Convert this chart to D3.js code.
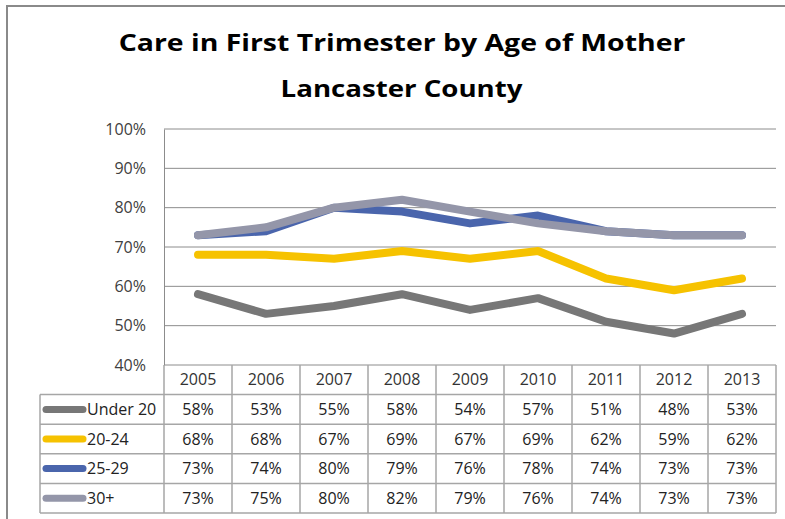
<!DOCTYPE html>
<html>
<head>
<meta charset="utf-8">
<script src="https://cdn.jsdelivr.net/npm/d3@7/dist/d3.min.js"></script>
<style>
  html, body { margin: 0; padding: 0; background: #fff; }
  svg { display: block; }
  text { font-family: "Open Sans", "Noto Sans", sans-serif; }
</style>
</head>
<body>
<svg id="chart" width="785" height="519"></svg>
<script>
// Years along the category axis
const years = ["2005", "2006", "2007", "2008", "2009", "2010", "2011", "2012", "2013"];

// Share of mothers receiving care in the first trimester, by age group
const under20 = [0.58, 0.53, 0.55, 0.58, 0.54, 0.57, 0.51, 0.48, 0.53];
const age20to24 = [0.68, 0.68, 0.67, 0.69, 0.67, 0.69, 0.62, 0.59, 0.62];
const age25to29 = [0.73, 0.74, 0.80, 0.79, 0.76, 0.78, 0.74, 0.73, 0.73];
const age30plus = [0.73, 0.75, 0.80, 0.82, 0.79, 0.76, 0.74, 0.73, 0.73];

const seriesNames = ["Under 20", "20-24", "25-29", "30+"];
const seriesColors = ["#777777", "#F6C200", "#4A65AC", "#9496A9"];
const yTicks = [0.4, 0.5, 0.6, 0.7, 0.8, 0.9, 1.0];

const series = [under20, age20to24, age25to29, age30plus].map((vals, i) => ({
  name: seriesNames[i], color: seriesColors[i], values: vals
}));

const svg = d3.select("#chart");

// Chart frame
svg.append("rect")
  .attr("x", 7).attr("y", 6).attr("width", 820).attr("height", 600)
  .attr("fill", "none").attr("stroke", "#8a8a8a").attr("stroke-width", 2);

// Title: each line is stretched horizontally to its set width
const titleLines = [
  { text: "Care in First Trimester by Age of Mother", cx: 402, y: 51, width: 567 },
  { text: "Lancaster County", cx: 401.5, y: 97, width: 242 }
];
const title = svg.append("g").attr("font-weight", "bold").attr("fill", "#000");
titleLines.forEach(t => {
  const node = title.append("text")
    .attr("text-anchor", "middle")
    .attr("font-size", 23)
    .text(t.text);
  const natural = node.node().getComputedTextLength();
  node.attr("transform", `translate(${t.cx},${t.y}) scale(${t.width / natural},1)`);
});

// Scales
const plotLeft = 164, plotRight = 776, plotTop = 129, plotBottom = 365;
const x = d3.scaleBand().domain(years).range([plotLeft, plotRight]);
const y = d3.scaleLinear().domain([0.4, 1.0]).range([plotBottom, plotTop]);

// Horizontal gridlines
svg.append("g")
  .selectAll("line")
  .data(yTicks)
  .join("line")
  .attr("x1", plotLeft).attr("x2", plotRight)
  .attr("y1", d => y(d)).attr("y2", d => y(d))
  .attr("stroke", "#8c8c8c").attr("stroke-width", 1);

// Value axis
const yAxis = svg.append("g")
  .attr("transform", `translate(${plotLeft},0)`)
  .call(d3.axisLeft(y).tickValues(yTicks).tickFormat(d3.format(".0%")).tickSize(0).tickPadding(18));
yAxis.select(".domain").attr("stroke", "#8c8c8c").attr("stroke-width", 1);
yAxis.selectAll("text")
  .attr("font-family", "\"Open Sans\", sans-serif")
  .attr("font-size", 16).attr("fill", "#404040");

// Data table beneath the plot
const rowH = 29.6;
const tableTop = plotBottom;
const legendLeft = 40;
const tableColor = "#a6a6a6";
const table = svg.append("g");

// Column dividers (also act as category tick marks)
const colEdges = years.map(d => x(d)).concat([plotRight]);
table.selectAll("line.col")
  .data(colEdges)
  .join("line")
  .attr("class", "col")
  .attr("x1", d => d).attr("x2", d => d)
  .attr("y1", tableTop).attr("y2", tableTop + rowH * 5)
  .attr("stroke", tableColor).attr("stroke-width", 1.5);

// Row dividers
const rowEdges = d3.range(1, 6).map(i => tableTop + rowH * i);
table.selectAll("line.row")
  .data(rowEdges)
  .join("line")
  .attr("class", "row")
  .attr("x1", legendLeft).attr("x2", plotRight)
  .attr("y1", d => d).attr("y2", d => d)
  .attr("stroke", tableColor).attr("stroke-width", 1.5);

// Left edge of the legend column
table.append("line")
  .attr("x1", legendLeft).attr("x2", legendLeft)
  .attr("y1", tableTop + rowH).attr("y2", tableTop + rowH * 5)
  .attr("stroke", tableColor).attr("stroke-width", 1.5);

// Header row: years
table.selectAll("text.year")
  .data(years)
  .join("text")
  .attr("class", "year")
  .attr("x", d => x(d) + x.bandwidth() / 2)
  .attr("y", tableTop + rowH / 2 + 5.5)
  .attr("text-anchor", "middle")
  .attr("font-size", 16).attr("fill", "#333")
  .text(d => d);

// Series rows: legend key + values
const fmt = d3.format(".0%");
series.forEach((s, i) => {
  const cy = tableTop + rowH * (i + 1) + rowH / 2;
  table.append("line")
    .attr("x1", 46).attr("x2", 83)
    .attr("y1", cy).attr("y2", cy)
    .attr("stroke", s.color).attr("stroke-width", 7).attr("stroke-linecap", "round");
  table.append("text")
    .attr("x", 87).attr("y", cy + 5.5)
    .attr("font-size", 16).attr("fill", "#222")
    .text(s.name);
  table.selectAll(null)
    .data(s.values)
    .join("text")
    .attr("x", (d, j) => x(years[j]) + x.bandwidth() / 2)
    .attr("y", cy + 5.5)
    .attr("text-anchor", "middle")
    .attr("font-size", 16).attr("fill", "#222")
    .text(d => fmt(d));
});

// Series lines
const line = d3.line()
  .x((d, j) => x(years[j]) + x.bandwidth() / 2)
  .y(d => y(d));

svg.append("g")
  .selectAll("path")
  .data(series)
  .join("path")
  .attr("d", d => line(d.values))
  .attr("fill", "none")
  .attr("stroke", d => d.color)
  .attr("stroke-width", 8)
  .attr("stroke-linejoin", "round")
  .attr("stroke-linecap", "round");
</script>
</body>
</html>
